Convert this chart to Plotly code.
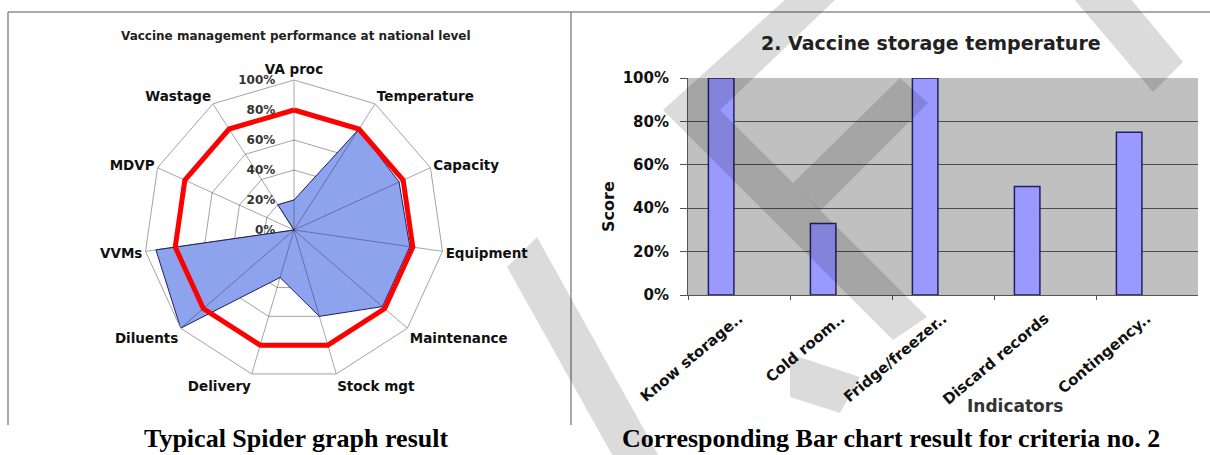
import plotly.graph_objects as go

W, H = 1210, 455

# ---- spider chart data ----
spokes = ["VA proc", "Temperature", "Capacity", "Equipment", "Maintenance",
          "Stock mgt", "Delivery", "Diluents", "VVMs", "MDVP", "Wastage"]
performance = [20, 80, 77, 78, 78, 60, 33, 100, 93, 0, 20]
target = [80] * len(spokes)
radial_ticks = [0, 20, 40, 60, 80, 100]
radial_labels = ["0%", "20%", "40%", "60%", "80%", "100%"]

# ---- bar chart data ----
indicators = ["Know storage..", "Cold room..", "Fridge/freezer..",
              "Discard records", "Contingency.."]
scores = [100, 33, 100, 50, 75]
score_ticks = [0, 20, 40, 60, 80, 100]
score_labels = ["0%", "20%", "40%", "60%", "80%", "100%"]

SANS = "DejaVu Sans"
SERIF = "Liberation Serif, Times New Roman, serif"
R_MAX = radial_ticks[-1]


def fx(x):
    return x / W


def fy(y):
    return 1 - y / H


def closed(seq):
    return list(seq) + [seq[0]]


fig = go.Figure()

fig.add_trace(go.Scatterpolar(
    r=closed(performance), theta=closed(spokes),
    mode="lines", fill="toself", fillcolor="#8ea3ee",
    line=dict(color="#1c1c66", width=1),
    subplot="polar", showlegend=False, hoverinfo="skip"))

# spokes drawn over the filled area
spoke_r, spoke_t = [], []
for name in spokes:
    spoke_r += [0, R_MAX, None]
    spoke_t += [name, name, None]
fig.add_trace(go.Scatterpolar(
    r=spoke_r, theta=spoke_t, mode="lines", connectgaps=False,
    line=dict(color="rgba(40,40,64,0.42)", width=1),
    subplot="polar", showlegend=False, hoverinfo="skip"))

fig.add_trace(go.Scatterpolar(
    r=closed(target), theta=closed(spokes),
    mode="lines", line=dict(color="#ff0000", width=5),
    subplot="polar", showlegend=False, hoverinfo="skip"))

fig.add_trace(go.Bar(
    x=indicators, y=scores, xaxis="x", yaxis="y",
    offset=-0.3, width=0.25,
    marker=dict(color="#9999ff", line=dict(color="#20205e", width=1.5)),
    showlegend=False, hoverinfo="skip"))

grid_gray = "#a3a3a3"

fig.update_layout(
    width=W, height=H,
    margin=dict(l=0, r=0, t=0, b=0, pad=0, autoexpand=False),
    paper_bgcolor="white",
    plot_bgcolor="#c0c0c0",
    font=dict(family=SANS, color="#111"),
    polar=dict(
        domain=dict(x=[fx(144), fx(444)], y=[fy(380), fy(80)]),
        bgcolor="white",
        gridshape="linear",
        angularaxis=dict(
            type="category", categoryarray=spokes,
            direction="clockwise", rotation=90,
            tickfont=dict(family=SANS, size=13.5, color="#111", weight="bold"),
            showline=True, linecolor=grid_gray, linewidth=1,
            showgrid=False, ticks=""),
        radialaxis=dict(
            range=[0, R_MAX], tickvals=radial_ticks, ticktext=radial_labels,
            angle=90, side="counterclockwise", tickangle=90,
            ticks="outside", ticklen=14, tickcolor="rgba(0,0,0,0)",
            tickfont=dict(family=SANS, size=12, color="#333", weight="bold"),
            showline=False,
            gridcolor=grid_gray, gridwidth=1),
    ),
    xaxis=dict(
        domain=[fx(688), fx(1198)], anchor="y", automargin=False,
        type="category", categoryarray=indicators,
        tickangle=-40, ticklabelstandoff=8,
        tickfont=dict(family=SANS, size=15, color="#111", weight="bold"),
        ticks="outside", tickson="boundaries", ticklen=4, tickcolor="#555",
        showline=True, linecolor="#555", linewidth=1,
        showgrid=False, fixedrange=True),
    yaxis=dict(
        domain=[fy(295), fy(78)], anchor="x", automargin=False,
        range=[0, 100], tickvals=score_ticks, ticktext=score_labels,
        ticklabelstandoff=8,
        tickfont=dict(family=SANS, size=15, color="#111", weight="bold"),
        ticks="outside", ticklen=7, tickcolor="#555",
        showline=True, linecolor="#555", linewidth=1,
        showgrid=True, gridcolor="#4d4d4d", gridwidth=1,
        zeroline=False, fixedrange=True),
)

annotations = [
    dict(text="Vaccine management performance at national level",
         x=fx(296), y=fy(36), font=dict(family=SANS, size=12, color="#222", weight="bold")),
    dict(text="2. Vaccine storage temperature",
         x=fx(931), y=fy(43), font=dict(family=SANS, size=19, color="#222", weight="bold")),
    dict(text="Score", x=fx(609), y=fy(207), textangle=-90,
         font=dict(family=SANS, size=16, color="#111", weight="bold")),
    dict(text="Indicators", x=fx(1015), y=fy(406),
         font=dict(family=SANS, size=17, color="#333", weight="bold")),
    dict(text="Typical Spider graph result", x=fx(296), y=fy(438),
         font=dict(family=SERIF, size=26, color="#000", weight="bold")),
    dict(text="Corresponding Bar chart result for criteria no. 2", x=fx(891), y=fy(438),
         font=dict(family=SERIF, size=26, color="#000", weight="bold")),
]
for a in annotations:
    a.update(xref="paper", yref="paper", showarrow=False,
             xanchor="center", yanchor="middle")
fig.update_layout(annotations=annotations)

# panel frame lines
frame = "#8c8c8c"
shapes = [
    dict(type="line", x0=fx(8), y0=fy(12), x1=fx(1210), y1=fy(12)),
    dict(type="line", x0=fx(8), y0=fy(12), x1=fx(8), y1=fy(425)),
    dict(type="line", x0=fx(571), y0=fy(12), x1=fx(571), y1=fy(425)),
]
for s in shapes:
    s.update(xref="paper", yref="paper", line=dict(color=frame, width=1.5), layer="above")

# translucent watermark strokes
watermark = [
    [(787, -2), (837, -2), (720, 110), (927, 317), (893, 340), (663, 110)],
    [(793, 183), (900, 78), (928, 103), (820, 211)],
    [(1073, -2), (1130, -2), (1183, 62), (1153, 92)],
    [(507, 267), (537, 237), (661, 460), (615, 460)],
    [(790, 354), (860, 377), (840, 413), (790, 397)],
]
for poly in watermark:
    path = "M " + " L ".join(f"{fx(x):.5f},{fy(y):.5f}" for x, y in poly) + " Z"
    shapes.append(dict(type="path", path=path, xref="paper", yref="paper",
                       fillcolor="rgba(0,0,0,0.14)", line=dict(width=0),
                       layer="above"))
fig.update_layout(shapes=shapes)

fig.write_html("out.html", config=dict(displayModeBar=False))
